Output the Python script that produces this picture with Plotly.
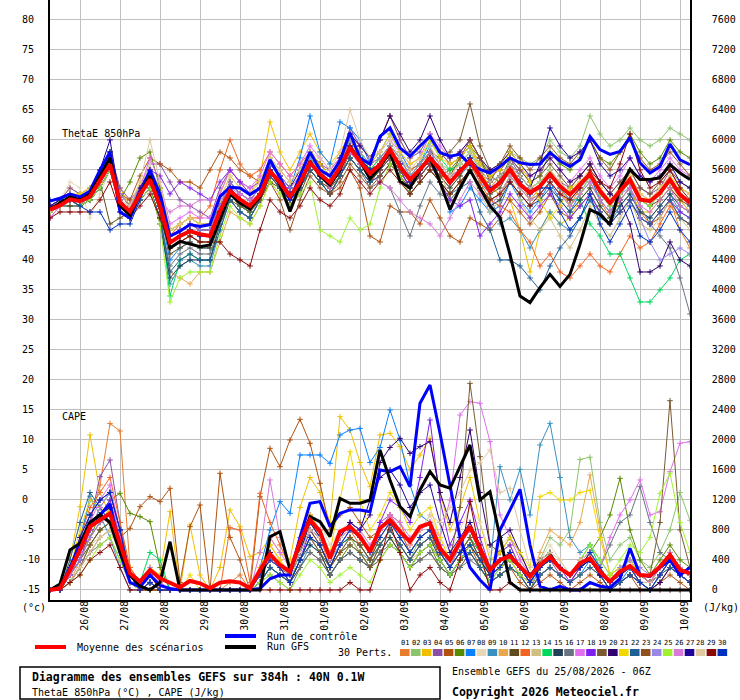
import plotly.graph_objects as go

# GEFS ensemble 25/08/2026 06Z, 40N 0.1W : ThetaE 850hPa (°C) and CAPE (J/kg), 6-hourly out to 384h
hours = list(range(0, 385, 6))
day_hours = list(range(18, 384, 24))
day_labels = ["26/08", "27/08", "28/08", "29/08", "30/08", "31/08", "01/09", "02/09",
              "03/09", "04/09", "05/09", "06/09", "07/09", "08/09", "09/09", "10/09"]

pert_colors = ["#E87D2E", "#8CC46C", "#F0C000", "#8B4FA8", "#B0520E", "#5A8A00", "#0A80FF", "#E8D8B8",
               "#3A90C0", "#E8A850", "#604C1C", "#F06420", "#D0C080", "#00D860", "#204058", "#687480",
               "#E070F0", "#8020F0", "#7A5A30", "#300070", "#F0D800", "#206098", "#905020", "#9A88E8",
               "#A0F030", "#D878D8", "#200098", "#E0C8A0", "#8A0808", "#0030C0"]

# ThetaE 850hPa, mean / control / GFS
theta_mean = [48.4, 49.1, 50.1, 49.8, 50.6, 53.1, 55.9, 49.6, 48.1, 50.9,  53.4, 49.0, 42.9, 44.0, 44.8, 44.3, 44.0, 48.1, 51.5, 50.1,
              49.0, 50.9, 54.8, 52.9, 50.6, 52.9, 56.2, 54.3, 52.9, 55.4,  58.7, 56.5, 54.4, 55.9, 58.4, 55.6, 53.4, 55.1, 57.0, 55.1,
              52.9, 54.8, 56.5, 54.0, 51.5, 52.9, 55.1, 52.6, 51.2, 52.3,  54.3, 52.3, 50.9, 52.6, 54.3, 51.5, 49.5, 51.5, 53.4, 50.1,
              49.8, 51.2, 53.4, 50.9, 49.5]
theta_ctrl = [49.8, 50.3, 51, 50.5, 51.5, 55, 58, 48, 47, 51,  55, 51, 44, 44.8, 45.9, 45.6, 45.9, 50.6, 52.1, 52,
              50.9, 52, 56.7, 53.7, 50, 54, 58, 55, 54, 56.5,  61.2, 57, 56, 60.6, 62, 58.7, 57.3, 59, 60.6, 57.9,
              57.3, 57.6, 55.9, 55.1, 54.5, 55.6, 57, 56.2, 55.9, 56,  57.9, 56.5, 55.6, 56.7, 60.6, 58.4, 57.6, 58.1, 60.4, 56.2,
              54.5, 55.6, 59.3, 56.7, 55.9]
theta_gfs = [48.5, 49.5, 50.5, 50, 51, 54, 57, 49, 47.5, 51,  54, 49, 42, 43.1, 42.6, 42.2, 42.5, 46.7, 51, 49.5,
             48.5, 50.5, 55, 52.5, 48.1, 52.5, 56.5, 54, 52.5, 55,  59, 56.5, 53.5, 55.5, 58, 53.1, 52, 55, 57, 53,
             48.4, 52, 55, 52, 49, 47.1, 40.9, 34, 32.9, 35.4,  37.6, 35.6, 37.6, 42.6, 48.4, 47.6, 45.9, 52, 55.1, 53.4,
             53.4, 53.7, 55.9, 54.5, 53.4]

# ThetaE 850hPa, perturbations 01-30
th01 = [48,49,51,50,51,54,57,50,48,52, 55,50,44,45,46,45,45,49,53,51, 50,52,56,54,52,54,57,55,53,56, 60,57,55,57,59,57,54,56,58,56, 54,56,58,55,52,54,56,53,50,52, 55,52,49,52,54,50,47,50,52,48, 46,48,50,45,42]
th02 = [49,50,51,50,51,54,57,51,49,51, 54,50,42,43,44,43,43,47,51,50, 49,51,55,53,51,53,56,54,53,55, 59,57,55,56,59,57,55,56,58,56, 55,56,58,56,55,56,58,57,56,57, 60,58,57,59,64,61,59,60,62,60, 59,60,62,61,60]
th03 = [49,50,52,51,52,55,57,52,49,53, 55,52,45,46,47,46,46,51,55,53, 51,54,63,58,55,58,61,58,56,58, 61,59,57,60,64,60,57,59,61,58, 56,57,59,55,52,51,50,45,38,45, 48,46,47,50,52,49,47,50,52,48, 48,50,52,50,48]
th04 = [49,50,52,51,52,55,58,52,50,52, 56,56,53,50,49,48,47,52,55,53, 52,53,57,55,53,55,58,56,55,57, 62,59,57,60,64,60,57,58,61,58, 56,57,59,56,54,55,57,54,52,53, 55,53,52,54,56,53,51,53,55,52, 51,52,55,52,51]
th05 = [48,49,50,49,50,53,56,51,50,54, 57,56,55,53,53,52,55,58,57,55, 54,53,55,53,51,52,55,53,51,52, 55,52,44,43,49,48,48,46,50,47, 44,43,47,46,45,47,50,48,46,48, 51,48,47,49,51,48,46,48,50,47, 46,47,50,47,46]
th06 = [48,49,50,50,50,52,55,50,53,57, 58,52,45,46,47,46,46,49,52,50, 49,51,54,52,50,52,55,53,52,54, 57,55,53,55,57,55,52,54,56,54, 55,57,59,57,54,53,57,55,53,54, 58,56,55,57,60,57,56,58,61,58, 56,57,60,58,57]
th07 = [49,50,51,50,51,54,58,48,47,50, 54,48,40,42,43,42,42,47,51,49, 48,51,56,54,52,57,64,58,56,63, 62,60,56,58,61,58,55,56,59,53, 48,49,52,50,48,49,53,50,48,50, 53,50,48,51,54,50,48,51,53,50, 49,51,54,51,49]
th08 = [49,50,53,52,47,51,55,50,49,52, 56,51,42,43,44,43,43,47,51,50, 49,51,55,53,51,54,57,55,53,56, 60,58,56,57,59,57,54,56,58,56, 54,56,58,55,53,54,56,54,52,53, 55,53,51,53,55,52,50,52,54,51, 50,52,54,51,50]
th09 = [48,49,49,49,50,52,55,49,47,50, 52,47,36,39,40,39,39,45,50,48, 47,50,54,52,50,52,55,53,51,54, 57,55,53,55,57,55,52,54,56,54, 52,54,56,53,51,46,47,45,42,45, 48,46,45,47,50,47,46,49,51,48, 47,49,51,48,47]
th10 = [48,49,50,49,50,52,55,49,47,50, 52,47,38,37,36,38,38,43,48,47, 46,49,53,51,49,52,55,53,51,54, 57,55,53,55,58,56,53,55,57,55, 53,55,57,54,52,53,56,54,52,53, 55,53,51,53,55,52,50,52,54,51, 50,51,53,50,48]
th11 = [48,49,49,49,51,53,46,47,48,51, 53,48,41,42,43,42,42,46,50,49, 48,50,53,52,49,51,55,53,51,54, 57,55,53,55,57,55,52,54,56,54, 52,54,57,54,51,52,55,53,51,52, 54,52,50,52,54,51,49,51,53,50, 49,50,52,50,49]
th12 = [48,49,50,50,51,54,57,50,48,51, 54,49,44,46,47,47,49,55,60,56, 54,55,58,56,54,56,58,56,54,56, 60,58,56,57,59,57,55,56,58,56, 54,55,56,53,50,49,48,45,43,39, 41,38,37,39,41,39,38,41,44,42, 43,46,49,47,46]
th13 = [48,49,50,50,51,53,56,50,48,51, 53,49,43,44,45,44,44,48,52,50, 49,51,55,53,51,53,56,54,53,55, 59,57,55,56,58,56,53,55,57,55, 50,52,55,51,48,50,54,50,47,45, 47,44,42,45,49,46,44,47,50,46, 45,47,50,47,45]
th14 = [48,49,50,50,51,53,58,50,48,51, 54,49,34,40,41,40,40,46,51,49, 48,51,55,53,51,53,57,55,53,56, 60,58,55,57,59,57,54,56,60,57, 55,56,58,55,53,54,56,54,52,53, 55,52,50,50,46,44,41,41,37,33, 33,35,37,40,41]
th15 = [48,49,50,49,50,52,55,49,47,50, 52,46,37,39,40,40,40,46,50,48, 47,50,54,52,50,52,55,53,51,54, 57,55,53,54,56,54,51,53,55,53, 51,53,55,52,49,50,53,51,49,50, 52,50,48,50,52,49,47,49,51,48, 47,49,51,49,48]
th16 = [48,49,50,49,50,52,55,49,47,50, 52,47,39,41,42,41,41,46,50,48, 47,50,54,52,50,52,55,53,51,54, 57,55,52,53,52,48,44,49,53,51, 50,52,55,52,50,51,54,52,50,51, 53,51,49,51,53,50,48,50,52,49, 46,44,42,37,31]
th17 = [47,49,51,50,51,54,57,51,49,52, 57,53,46,47,48,47,47,51,55,53, 52,54,58,56,54,56,59,57,55,57, 61,59,57,58,60,58,56,57,61,59, 57,58,60,57,55,55,57,55,54,55, 57,55,53,55,57,54,52,54,57,54, 53,55,57,55,54]
th18 = [49,50,51,50,51,54,57,51,49,52, 55,54,51,53,52,51,50,53,55,53, 51,52,56,54,51,53,56,54,52,55, 58,56,54,55,57,55,52,54,56,53, 50,49,50,44,46,48,51,49,47,49, 51,49,47,49,51,48,46,48,50,47, 46,48,50,48,47]
th19 = [48,49,50,50,50,53,56,50,48,51, 53,48,42,43,44,43,43,47,51,49, 48,50,54,52,50,52,55,53,52,54, 58,56,54,55,57,55,53,55,58,57, 58,60,66,59,55,55,57,55,53,54, 56,54,52,54,56,53,51,53,55,52, 51,53,55,53,52]
th20 = [49,50,51,50,51,54,58,51,49,52, 55,50,44,45,46,45,45,49,53,51, 50,52,56,54,52,55,58,56,54,57, 61,59,57,60,64,61,58,60,64,60, 57,58,60,57,55,56,58,56,54,55, 57,55,53,54,56,53,51,50,46,38, 38,39,43,40,39]
th21 = [48,50,51,51,52,55,57,51,49,52, 55,51,45,46,47,46,46,50,54,52, 51,53,57,55,53,55,58,56,54,56, 60,58,56,58,61,58,56,57,60,57, 56,57,59,56,54,55,58,56,53,50, 47,49,52,53,55,52,50,52,54,51, 50,52,54,52,51]
th22 = [48,49,50,49,50,52,55,49,47,50, 52,47,38,40,41,40,40,45,50,48, 47,50,54,52,50,52,55,53,51,54, 57,55,53,54,56,54,51,53,55,53, 51,52,53,48,45,40,40,39,37,35, 39,42,44,47,50,48,46,48,50,47, 46,48,50,47,46]
th23 = [48,49,50,50,51,53,56,50,48,51, 54,49,43,44,45,44,44,48,52,50, 49,50,53,50,45,50,54,52,51,53, 56,54,52,54,56,54,52,54,56,54, 54,57,60,57,53,56,59,57,55,57, 59,57,56,58,60,57,55,58,60,57, 55,56,58,56,54]
th24 = [49,50,51,50,51,54,57,51,49,52, 55,50,44,45,46,45,45,49,53,51, 50,52,56,54,52,54,57,55,53,56, 60,58,56,57,59,57,54,56,58,56, 54,55,57,54,52,53,55,53,51,52, 54,52,50,52,54,51,49,51,52,47, 43,40,41,42,41]
th25 = [48,49,50,49,50,52,55,49,47,50, 52,46,33,37,38,38,38,44,49,47, 46,49,53,51,49,51,53,45,44,43, 47,45,46,52,56,54,51,53,55,53, 51,53,55,52,50,51,54,52,50,51, 53,51,49,51,54,51,49,51,53,50, 49,51,53,51,50]
th26 = [47,49,50,50,51,53,56,50,48,51, 54,50,48,49,49,50,50,50,52,51, 50,51,55,53,51,53,56,54,52,55, 58,56,54,53,52,50,48,47,46,44, 47,50,53,51,49,51,54,52,50,51, 53,51,49,51,53,50,48,50,52,49, 48,50,52,49,48]
th27 = [49,50,51,50,51,55,60,50,48,52, 55,50,43,44,45,44,44,48,52,50, 49,51,55,53,51,53,56,54,53,55, 59,57,55,56,58,56,53,55,57,55, 53,55,57,55,53,54,56,54,52,56, 62,59,57,58,60,56,54,55,57,54, 53,54,56,53,52]
th28 = [48,49,51,50,51,53,56,50,49,53, 60,53,45,46,47,46,46,50,54,52, 51,53,57,55,53,55,58,57,55,58, 65,60,57,58,60,57,55,57,59,56, 54,56,58,55,53,54,56,54,52,53, 55,53,51,53,55,52,50,52,54,51, 50,52,54,51,50]
th29 = [47,48,48,48,48,50,53,48,47,49, 51,47,42,43,44,43,43,43,41,40, 39,45,50,48,47,49,52,50,49,51, 55,53,51,53,55,53,51,53,55,53, 51,53,55,52,50,51,53,51,49,51, 53,51,50,52,55,53,52,56,61,55, 52,53,55,52,50]
th30 = [50,50,50,49,48,48,45,46,46,50, 54,49,43,44,45,44,44,48,52,50, 49,51,55,53,51,53,56,54,53,55, 59,57,55,56,58,56,53,55,57,55, 53,55,57,54,52,53,55,53,51,52, 52,48,45,47,51,46,43,46,49,44, 43,45,48,45,43]

# CAPE, mean / control / GFS (J/kg)
cape_mean = [0,22,267,533,844,933,1022,622,222,111, 267,156,89,36,120,89,22,98,116,98, 22,267,476,333,244,644,933,778,422,778,
             844,711,511,822,933,778,644,844,889,556, 400,644,844,556,267,400,453,311,178,333, 444,289,200,356,422,244,111,244,320,200,
             191,311,467,267,222]
cape_ctrl = [0,20,300,600,900,1000,1150,500,100,40, 200,60,20,0,0,0,0,0,0,0, 0,20,150,200,200,700,1156,1178,844,1022,
             1067,1067,1044,1600,1578,1644,1378,2489,2733,2089, 1378,700,300,133,0,800,1067,1342,600,50, 0,50,0,0,100,50,30,150,556,200,
             180,300,400,200,300]
cape_gfs = [0,80,533,622,900,1000,900,500,200,50, 0,100,644,0,0,0,0,0,0,0, 0,0,711,778,267,600,978,911,711,1222,
            1156,1156,1200,1867,1467,1111,978,1333,1578,1400, 1356,1644,1933,1200,1311,711,100,0,0,0, 0,0,0,0,0,0,0,0,0,0,
            0,0,0,0,0]

# CAPE, perturbations 01-30
cp01 = [0,0,200,500,900,1400,2220,2120,300,100, 200,100,0,0,0,0,0,0,100,200, 0,300,600,400,200,600,900,700,300,600, 700,500,300,600,800,600,400,600,700,400, 200,400,600,400,100,200,300,200,0,200, 300,200,100,300,500,300,100,200,300,100, 100,300,500,300,200]
cp02 = [0,0,100,300,600,800,900,500,100,0, 100,0,0,0,0,0,0,0,0,0, 0,200,400,300,100,500,800,600,300,500, 700,500,300,600,800,600,400,700,800,500, 300,500,700,500,200,300,400,300,100,400, 700,600,800,1740,1770,900,400,600,700,400, 300,500,800,1300,930]
cp03 = [0,0,400,1110,2067,1300,1000,600,200,100, 300,200,1044,0,867,200,0,300,1067,844, 444,500,700,500,400,1100,1500,1300,900,2311, 2133,1700,1378,2067,2089,1911,1600,1800,2022,1300, 800,1100,1500,900,400,500,600,300,100,400, 500,300,200,400,500,300,100,200,300,100, 100,200,400,200,100]
cp04 = [0,0,200,500,900,1511,1733,900,200,100, 200,100,0,0,0,0,0,0,0,0, 0,200,500,300,200,500,800,700,400,700, 800,700,500,900,1000,800,600,800,900,500, 300,600,800,500,200,300,400,200,100,300, 400,200,100,300,400,200,0,100,200,100, 100,200,400,200,100]
cp05 = [0,0,100,300,500,700,800,700,822,1111, 1244,1178,1356,100,844,1133,0,1556,700,400, 0,1244,1889,1644,2000,2275,1956,1422,800,1000, 1100,900,700,800,1000,800,500,700,800,400, 200,400,600,300,100,200,300,100,0,100, 200,100,0,100,200,100,0,100,200,0, 0,100,200,100,0]
cp06 = [0,0,200,400,700,1000,1200,1289,1022,978, 911,300,0,0,0,0,0,0,0,0, 0,100,300,200,100,400,700,500,200,400, 600,500,300,500,700,500,300,500,600,300, 200,400,500,300,100,200,300,200,0,300, 400,300,200,400,500,700,1000,1489,800,400, 200,400,600,400,300]
cp07 = [0,0,300,700,1200,1100,900,500,100,0, 100,0,0,0,0,0,0,0,0,0, 0,300,800,1178,1022,1800,1800,1800,1689,2067, 2133,2155,1700,1900,2400,2000,1400,1000,900,600, 300,500,700,400,100,300,500,300,100,200, 300,200,100,200,400,200,0,100,300,100, 0,200,400,200,100]
cp08 = [0,0,200,300,400,600,700,400,100,0, 100,0,0,0,0,0,0,0,0,0, 0,200,500,400,200,600,1000,900,600,800, 900,800,500,700,900,800,600,800,1000,700, 500,800,1100,900,500,600,700,400,200,400, 600,400,200,400,600,300,100,200,400,200, 100,300,500,300,200]
cp09 = [0,0,200,600,1250,1000,700,300,0,0, 100,0,0,0,0,0,0,0,0,0, 0,100,300,200,100,300,600,500,300,500, 600,500,400,600,800,600,400,600,700,500, 300,500,700,400,300,1644,1200,1609,1000,1933, 2222,1500,700,500,600,400,200,300,400,200, 100,300,500,300,200]
cp10 = [0,0,100,400,700,900,1100,600,200,0, 100,0,0,0,0,0,0,0,0,0, 0,200,400,300,100,400,700,600,300,600, 700,600,400,600,800,600,400,600,700,500, 300,500,600,400,200,300,400,300,100,500, 800,700,600,900,1533,800,200,300,400,200, 100,200,400,300,200]
cp11 = [0,0,200,400,600,800,900,500,100,0, 0,0,0,0,0,0,0,0,0,0, 0,100,300,200,100,300,500,400,200,400, 500,400,300,400,600,500,300,400,500,300, 200,300,500,300,100,200,300,200,0,200, 300,200,100,200,300,200,0,100,200,100, 0,100,300,200,100]
cp12 = [0,0,300,700,1100,1300,1500,900,300,100, 200,0,0,0,0,0,0,0,830,800, 100,1289,900,600,300,700,1000,800,400,700, 800,600,400,800,1000,900,600,800,900,500, 300,500,700,500,200,300,400,200,100,300, 400,300,200,400,500,300,100,200,300,200, 100,300,500,300,200]
cp13 = [0,0,100,300,600,700,800,500,100,0, 0,0,0,0,0,0,0,0,0,0, 0,100,300,200,100,400,700,500,300,500, 600,500,300,500,700,600,400,500,600,400, 200,400,600,400,200,300,400,200,100,200, 300,200,100,200,300,200,100,100,200,100, 0,200,300,200,100]
cp14 = [0,0,200,500,800,1100,1300,800,200,100, 500,400,0,0,0,0,0,0,0,0, 0,200,500,300,200,500,900,700,400,600, 700,600,400,700,900,700,500,700,800,500, 300,500,700,500,200,400,500,300,100,300, 500,300,200,400,600,300,100,200,300,200, 100,300,500,300,200]
cp15 = [0,0,300,600,900,1000,1100,700,200,0, 100,0,0,0,0,0,0,0,0,0, 0,100,300,200,100,400,600,500,200,400, 500,400,300,500,700,500,300,500,600,400, 200,400,600,400,200,300,400,300,100,300, 400,300,200,300,400,300,100,200,300,200, 100,200,400,200,100]
cp16 = [0,0,100,300,500,600,700,400,100,0, 0,0,0,0,0,0,0,0,0,0, 0,100,200,100,0,300,500,400,200,400, 500,400,300,500,600,500,300,400,500,300, 200,300,400,300,100,200,300,200,0,200, 300,200,100,300,400,300,600,900,1000,1378, 900,500,400,200,100]
cp17 = [0,0,200,500,900,1200,1400,800,200,100, 200,100,0,0,0,0,0,0,0,0, 0,200,700,500,300,700,1000,800,400,700, 800,700,500,800,1000,800,600,800,900,700, 1200,2333,2511,2489,1978,1000,700,400,200,300, 400,300,200,300,400,300,700,1000,1200,1467, 1000,1044,1578,1956,1978]
cp18 = [0,0,200,400,800,1000,1200,700,200,0, 100,0,0,0,0,0,0,0,0,0, 0,200,400,300,100,400,800,600,300,600, 800,700,500,900,1200,1100,900,1500,2267,1200, 600,900,1200,700,300,500,600,300,100,300, 400,300,100,300,400,200,100,200,300,100, 100,200,400,200,100]
cp19 = [0,0,100,300,600,800,900,500,100,0, 100,0,0,0,0,0,0,0,0,0, 0,200,400,300,100,400,700,500,300,500, 600,500,300,600,800,600,400,600,700,500, 400,1100,2755,1778,600,500,700,500,200,400, 500,300,200,400,500,300,100,200,300,200, 200,900,2524,800,300]
cp20 = [0,0,200,500,800,1000,1100,600,200,0, 100,0,0,0,0,0,0,0,0,0, 0,200,400,300,200,500,800,700,400,700, 900,800,1000,1700,1900,2022,1822,1911,1978,1300, 900,1500,2133,1300,600,700,800,500,200,400, 500,300,200,300,400,200,0,100,200,100, 0,100,300,200,100]
cp21 = [0,0,300,800,1200,1100,1000,600,200,100, 300,100,0,0,200,0,0,0,0,0, 0,300,600,400,200,600,1000,800,500,1200, 1844,1200,800,1000,1300,1100,800,1000,1100,700, 400,600,900,600,300,500,700,500,300,1244, 1300,1200,1200,1300,1330,700,200,300,400,200, 100,300,500,300,200]
cp22 = [0,0,400,900,1300,1100,900,500,100,0, 100,0,0,0,0,0,0,0,0,0, 0,100,300,200,100,400,700,600,300,600, 700,600,400,600,800,600,400,600,700,400, 200,400,500,300,100,200,300,200,0,200, 300,200,100,200,300,200,0,100,200,100, 0,200,300,200,100]
cp23 = [0,0,200,500,700,900,1000,600,200,100, 200,0,0,0,0,0,0,0,0,0, 0,200,500,300,200,500,800,600,300,500, 700,600,400,700,900,700,500,700,800,500, 300,500,700,400,200,300,500,300,100,300, 400,300,200,300,500,300,100,200,300,200, 100,200,400,300,200]
cp24 = [0,0,200,400,700,900,1000,600,200,100, 300,100,0,0,0,0,0,0,0,0, 0,200,400,300,200,500,800,700,400,600, 800,700,500,700,900,700,500,700,800,600, 300,600,800,500,300,400,500,300,100,300, 400,300,200,400,500,300,100,300,400,300, 200,300,500,300,200]
cp25 = [0,0,100,200,400,600,700,400,100,0, 0,0,0,0,0,0,0,0,0,0, 0,100,200,100,0,200,400,300,100,200, 300,200,100,400,600,500,300,500,600,400, 200,400,600,400,100,300,400,200,100,300, 400,300,200,400,600,400,200,400,600,500, 700,1289,1556,900,500]
cp26 = [0,0,200,500,800,1100,1300,700,200,100, 200,100,0,0,0,0,0,0,0,0, 0,500,1467,700,300,600,900,800,500,700, 900,800,600,800,1000,900,700,800,900,600, 400,600,800,600,300,400,500,300,100,300, 400,300,200,400,500,300,100,200,300,200, 100,300,500,300,200]
cp27 = [0,0,300,700,1000,1200,1300,800,200,0, 100,0,0,0,0,0,0,0,0,0, 0,200,500,300,200,500,900,700,400,700, 900,800,1200,1500,1600,1400,1100,1300,1400,900, 500,700,900,600,300,400,500,300,100,300, 400,300,200,300,400,200,100,200,300,100, 100,200,400,200,100]
cp28 = [0,0,100,300,500,700,800,500,100,0, 100,0,0,0,0,0,0,0,0,0, 0,200,400,300,200,500,800,700,400,700, 800,700,500,700,900,800,600,800,1000,900, 1100,1300,1600,1700,1867,1300,1356,800,300,400, 500,400,200,400,500,300,100,200,300,100, 100,200,400,200,100]
cp29 = [0,0,100,200,400,500,600,300,0,0, 0,0,0,0,0,0,0,0,0,0, 0,0,0,0,0,0,0,0,0,0, 100,0,0,400,889,500,0,200,300,100, 0,400,1178,500,0,0,100,0,0,0, 0,0,0,0,0,0,0,0,0,0, 0,0,0,0,0]
cp30 = [0,0,300,600,1000,1200,1300,800,200,0, 100,0,0,0,0,0,0,0,0,0, 0,200,400,300,100,400,700,600,300,600, 800,700,500,700,900,700,500,700,800,500, 300,500,600,400,200,300,500,300,100,300, 400,300,200,300,500,300,100,200,300,100, 0,200,400,200,100]

theta_perts = [th01, th02, th03, th04, th05, th06, th07, th08, th09, th10, th11, th12, th13, th14, th15,
               th16, th17, th18, th19, th20, th21, th22, th23, th24, th25, th26, th27, th28, th29, th30]
cape_perts = [cp01, cp02, cp03, cp04, cp05, cp06, cp07, cp08, cp09, cp10, cp11, cp12, cp13, cp14, cp15,
              cp16, cp17, cp18, cp19, cp20, cp21, cp22, cp23, cp24, cp25, cp26, cp27, cp28, cp29, cp30]

for s in theta_perts + cape_perts + [theta_mean, theta_ctrl, theta_gfs, cape_mean, cape_ctrl, cape_gfs]:
    assert len(s) == len(hours), len(s)

# plot area is 640x600 px starting at (50, 0); helpers to place decorations in pixels
def px(x):
    return (x - 50) / 640.0

def py(y):
    return 1 - y / 600.0

FONT = "DejaVu Sans Mono"
y_lo, y_hi = -16.67, 83.33

fig = go.Figure()

# perturbations
for i in range(30):
    c = pert_colors[i]
    mk = dict(symbol="cross-thin", size=4, line=dict(width=1, color=c))
    fig.add_trace(go.Scatter(x=hours, y=theta_perts[i], mode="lines+markers", line=dict(color=c, width=1),
                             marker=mk, hoverinfo="skip"))
    fig.add_trace(go.Scatter(x=hours, y=cape_perts[i], mode="lines+markers", line=dict(color=c, width=1),
                             marker=mk, yaxis="y2", hoverinfo="skip"))

# control, GFS, mean
fig.add_trace(go.Scatter(x=hours, y=theta_ctrl, mode="lines", line=dict(color="#0000FF", width=3)))
fig.add_trace(go.Scatter(x=hours, y=cape_ctrl, mode="lines", line=dict(color="#0000FF", width=3), yaxis="y2"))
fig.add_trace(go.Scatter(x=hours, y=theta_gfs, mode="lines", line=dict(color="#000000", width=3)))
fig.add_trace(go.Scatter(x=hours, y=cape_gfs, mode="lines", line=dict(color="#000000", width=3), yaxis="y2"))
fig.add_trace(go.Scatter(x=hours, y=theta_mean, mode="lines", line=dict(color="#FF0000", width=4)))
fig.add_trace(go.Scatter(x=hours, y=cape_mean, mode="lines", line=dict(color="#FF0000", width=4), yaxis="y2"))

ann = []
# left axis labels, left aligned like the original
for v in range(-15, 85, 5):
    ann.append(dict(x=px(20), xref="paper", y=v, yref="y", text=str(v), xanchor="left", yanchor="middle",
                    showarrow=False, font=dict(family=FONT, size=10)))

def txt(x, y, s, size=10, anchor="left"):
    ann.append(dict(x=px(x), y=py(y), xref="paper", yref="paper", text=s, xanchor=anchor, yanchor="middle",
                    showarrow=False, font=dict(family=FONT, size=size, color="black")))

txt(60, 133, "ThetaE 850hPa")
txt(60, 416, "CAPE")
txt(20, 607, "(°c)")
txt(701, 607, "(J/kg)")
txt(75, 647, "Moyenne des scénarios")
txt(265, 636, "Run de contrôle")
txt(265, 646, "Run GFS")
txt(394, 652, "30 Perts.", anchor="right")
txt(30, 677, "<b>Diagramme des ensembles GEFS sur 384h : 40N 0.1W</b>", size=11.5)
txt(30, 692, "ThetaE 850hPa (°C) , CAPE (J/kg)")
txt(450, 671, "Ensemble GEFS du 25/08/2026 - 06Z")
txt(450, 692, "<b>Copyright 2026 Meteociel.fr</b>", size=11.5)

shapes = []
def hline(x0, x1, y, color):
    shapes.append(dict(type="line", xref="paper", yref="paper", x0=px(x0), x1=px(x1), y0=py(y), y1=py(y),
                       line=dict(color=color, width=4)))

hline(35, 66, 647, "#FF0000")
hline(225, 256, 636, "#0000FF")
hline(225, 256, 647, "#000000")

for i, c in enumerate(pert_colors):
    x0 = 400 + 10.95 * i
    shapes.append(dict(type="rect", xref="paper", yref="paper", x0=px(x0), x1=px(x0 + 9.6), y0=py(656), y1=py(649),
                       fillcolor=c, line=dict(width=0)))
    ann.append(dict(x=px(x0 + 4.8), y=py(643), xref="paper", yref="paper", text="%02d" % (i + 1),
                    showarrow=False, xanchor="center", yanchor="middle",
                    font=dict(family=FONT, size=7, color="black")))

shapes.append(dict(type="rect", xref="paper", yref="paper", x0=px(20), x1=px(440), y0=py(699), y1=py(667),
                   line=dict(color="black", width=1.5), fillcolor="rgba(0,0,0,0)"))

fig.update_layout(
    width=740, height=700, autosize=False,
    margin=dict(l=50, r=50, t=0, b=100),
    plot_bgcolor="white", paper_bgcolor="white",
    showlegend=False,
    font=dict(family=FONT, size=10, color="black"),
    xaxis=dict(range=[0, 384], tickvals=day_hours, ticktext=day_labels, tickangle=-90,
               showgrid=True, gridcolor="#C0C0C0", gridwidth=1, zeroline=False,
               showline=True, linecolor="black", linewidth=1.5, ticks="",
               ticklabelshift=5, ticklabelstandoff=-5, tickfont=dict(family=FONT, size=10)),
    yaxis=dict(range=[y_lo, y_hi], tickvals=list(range(-15, 85, 5)), showticklabels=False,
               showgrid=True, gridcolor="#C0C0C0", gridwidth=1, zeroline=False,
               showline=True, linecolor="black", linewidth=1.5, ticks=""),
    yaxis2=dict(range=[(y_lo + 15) * 80, (y_hi + 15) * 80], tickvals=list(range(0, 7601, 400)),
                overlaying="y", side="right", showgrid=False, zeroline=False,
                showline=True, linecolor="black", linewidth=1.5, ticks="",
                ticklabelstandoff=18, tickfont=dict(family=FONT, size=10)),
    annotations=ann,
    shapes=shapes,
)

# the page keeps the browser's default 8px body margin unless it is removed
fig.write_html("out.html", config={"displayModeBar": False},
               post_script="document.body.style.margin='0';")
